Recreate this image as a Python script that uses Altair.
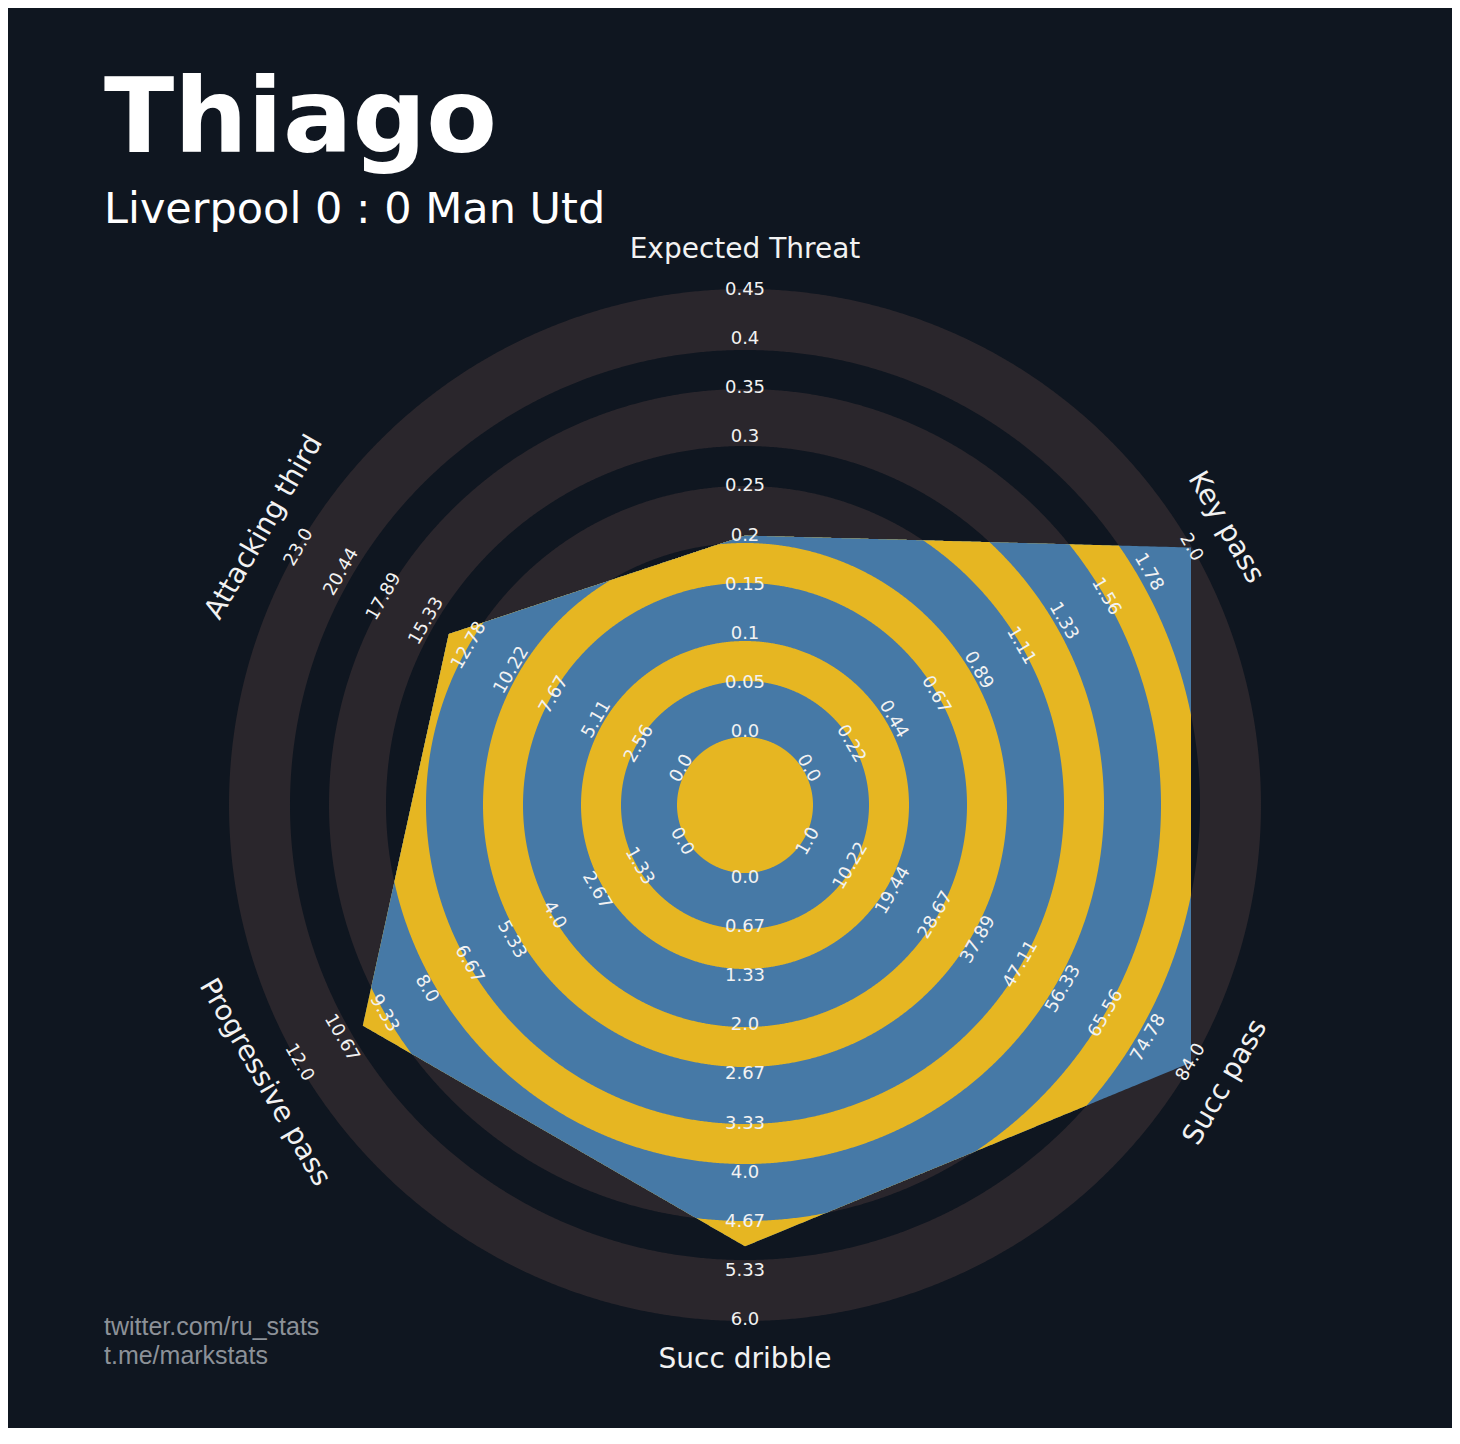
import math
import pandas as pd
import altair as alt

# ---------------- data ----------------
PLAYER = "Thiago"
MATCH = "Liverpool 0 : 0 Man Utd"
CREDIT_1 = "twitter.com/ru_stats"
CREDIT_2 = "t.me/markstats"

PARAMS = ["Expected Threat", "Key pass", "Succ pass", "Succ dribble",
          "Progressive pass", "Attacking third"]
VALUES = [0.2, 2.0, 84.0, 5.0, 10.0, 14.0]
MIN_RANGE = [0.0, 0.0, 1.0, 0.0, 0.0, 0.0]
MAX_RANGE = [0.45, 2.0, 84.0, 6.0, 12.0, 23.0]

LABELS_XT = ["0.0", "0.05", "0.1", "0.15", "0.2", "0.25", "0.3", "0.35", "0.4", "0.45"]
LABELS_KP = ["0.0", "0.22", "0.44", "0.67", "0.89", "1.11", "1.33", "1.56", "1.78", "2.0"]
LABELS_SP = ["1.0", "10.22", "19.44", "28.67", "37.89", "47.11", "56.33", "65.56", "74.78", "84.0"]
LABELS_SD = ["0.0", "0.67", "1.33", "2.0", "2.67", "3.33", "4.0", "4.67", "5.33", "6.0"]
LABELS_PP = ["0.0", "1.33", "2.67", "4.0", "5.33", "6.67", "8.0", "9.33", "10.67", "12.0"]
LABELS_AT = ["0.0", "2.56", "5.11", "7.67", "10.22", "12.78", "15.33", "17.89", "20.44", "23.0"]
RANGE_LABELS = [LABELS_XT, LABELS_KP, LABELS_SP, LABELS_SD, LABELS_PP, LABELS_AT]

# ---------------- style / layout ----------------
BG = "#0F1620"
RING_GREY = "#2A262C"
BLUE = "#4679A6"
YELLOW = "#E6B622"
TEXT = "#F2F2F2"
CREDIT_COLOR = "#8C9198"

W, H = 1444, 1420          # plot area (page minus 8px margin)
CX, CY = 737, 797          # radar centre inside the plot area
UNIT = 516.0               # pixels per radar unit (outer ring = 1)
RING_EDGES = [e / UNIT for e in [68, 124, 164, 222, 262, 319, 359, 416, 455, 516]]
LABEL_R0, LABEL_R1 = 73 / UNIT, 515 / UNIT
PARAM_R = 555 / UNIT

N = len(PARAMS)
SECTOR = 2 * math.pi / N
PHIS = [i * SECTOR for i in range(N)]


def norm(v, lo, hi):
    t = (v - lo) / (hi - lo)
    return LABEL_R0 + min(max(t, 0.0), 1.0) * (LABEL_R1 - LABEL_R0)


RHOS = [norm(v, lo, hi) for v, lo, hi in zip(VALUES, MIN_RANGE, MAX_RANGE)]


def poly_r(th):
    th = th % (2 * math.pi)
    i = int(th // SECTOR) % N
    j = (i + 1) % N
    a = th - PHIS[i]
    b = SECTOR - a
    return RHOS[i] * RHOS[j] * math.sin(SECTOR) / (RHOS[i] * math.sin(a) + RHOS[j] * math.sin(b))


STEPS = 1440
BASE = [k * 2 * math.pi / STEPS for k in range(STEPS)]


def shape(rc, clip=True):
    angs = list(BASE)
    if clip:
        for t0 in BASE:
            t1 = t0 + 2 * math.pi / STEPS
            f0 = poly_r(t0) - rc
            f1 = poly_r(t1) - rc
            if f0 * f1 < 0:
                lo, hi = t0, t1
                for _ in range(40):
                    mid = (lo + hi) / 2
                    fm = poly_r(mid) - rc
                    if (fm < 0) == (f0 < 0):
                        lo = mid
                    else:
                        hi = mid
                angs.append((lo + hi) / 2)
        angs.sort()
    rows = []
    for i, t in enumerate(angs):
        rr = min(rc, poly_r(t)) if clip else rc
        rows.append({"i": i, "x": round(rr * math.sin(t), 5), "y": round(rr * math.cos(t), 5)})
    return pd.DataFrame(rows)


xs = alt.Scale(domain=[-CX / UNIT, (W - CX) / UNIT], nice=False, zero=False)
ys = alt.Scale(domain=[-(H - CY) / UNIT, CY / UNIT], nice=False, zero=False)


def fill_layer(df, color):
    return alt.Chart(df).mark_line(filled=True, interpolate="linear-closed", color=color).encode(
        x=alt.X("x:Q", scale=xs, axis=None),
        y=alt.Y("y:Q", scale=ys, axis=None),
        order=alt.Order("i:Q"),
    )


layers = []
# rings seen outside the polygon (painted from the outside in)
for k in range(len(RING_EDGES) - 1, -1, -1):
    layers.append(fill_layer(shape(RING_EDGES[k], clip=False), RING_GREY if k % 2 == 1 else BG))
# rings inside the polygon: polygon clipped by each circle
for k in range(len(RING_EDGES) - 1, -1, -1):
    layers.append(fill_layer(shape(RING_EDGES[k], clip=True), BLUE if k % 2 == 1 else YELLOW))


def rot(phi_deg):
    a = phi_deg
    if 90 < a < 270:
        a -= 180
    return a % 360


range_rows = []
param_rows = []
for i, (p, labs) in enumerate(zip(PARAMS, RANGE_LABELS)):
    phi = PHIS[i]
    ang = rot(math.degrees(phi))
    for k, lab in enumerate(labs):
        rr = LABEL_R0 + k / (len(labs) - 1) * (LABEL_R1 - LABEL_R0)
        range_rows.append({"x": rr * math.sin(phi), "y": rr * math.cos(phi), "label": lab, "ang": ang})
    param_rows.append({"x": PARAM_R * math.sin(phi), "y": PARAM_R * math.cos(phi), "label": p, "ang": ang})

range_text = alt.Chart(pd.DataFrame(range_rows)).mark_text(
    font="DejaVu Sans", fontSize=18, color=TEXT, align="center", baseline="middle"
).encode(
    x=alt.X("x:Q", scale=xs, axis=None),
    y=alt.Y("y:Q", scale=ys, axis=None),
    text="label:N",
    angle=alt.Angle("ang:Q", scale=None),
)

param_text = alt.Chart(pd.DataFrame(param_rows)).mark_text(
    font="DejaVu Sans", fontSize=28, color=TEXT, align="center", baseline="middle"
).encode(
    x=alt.X("x:Q", scale=xs, axis=None),
    y=alt.Y("y:Q", scale=ys, axis=None),
    text="label:N",
    angle=alt.Angle("ang:Q", scale=None),
)


def free_text(s, x, y, size, weight="normal", color="white", font="DejaVu Sans"):
    return alt.Chart(pd.DataFrame({"t": [s]})).mark_text(
        font=font, fontSize=size, fontWeight=weight, color=color,
        align="left", baseline="alphabetic"
    ).encode(x=alt.value(x), y=alt.value(y), text="t:N")


title = free_text(PLAYER, 96, 144, 103, weight="bold", color="#FFFFFF")
subtitle = free_text(MATCH, 96, 215, 43, color="#FFFFFF")
credit1 = free_text(CREDIT_1, 96, 1327, 25, color=CREDIT_COLOR, font="Liberation Sans")
credit2 = free_text(CREDIT_2, 96, 1356, 25, color=CREDIT_COLOR, font="Liberation Sans")

chart = alt.layer(
    *layers, range_text, param_text, title, subtitle, credit1, credit2
).properties(
    width=W,
    height=H,
    padding=0,
    autosize=alt.AutoSizeParams(type="none"),
    background=BG,
).configure_view(stroke=None)

chart.save("out.html", embed_options={"renderer": "svg", "actions": False})
